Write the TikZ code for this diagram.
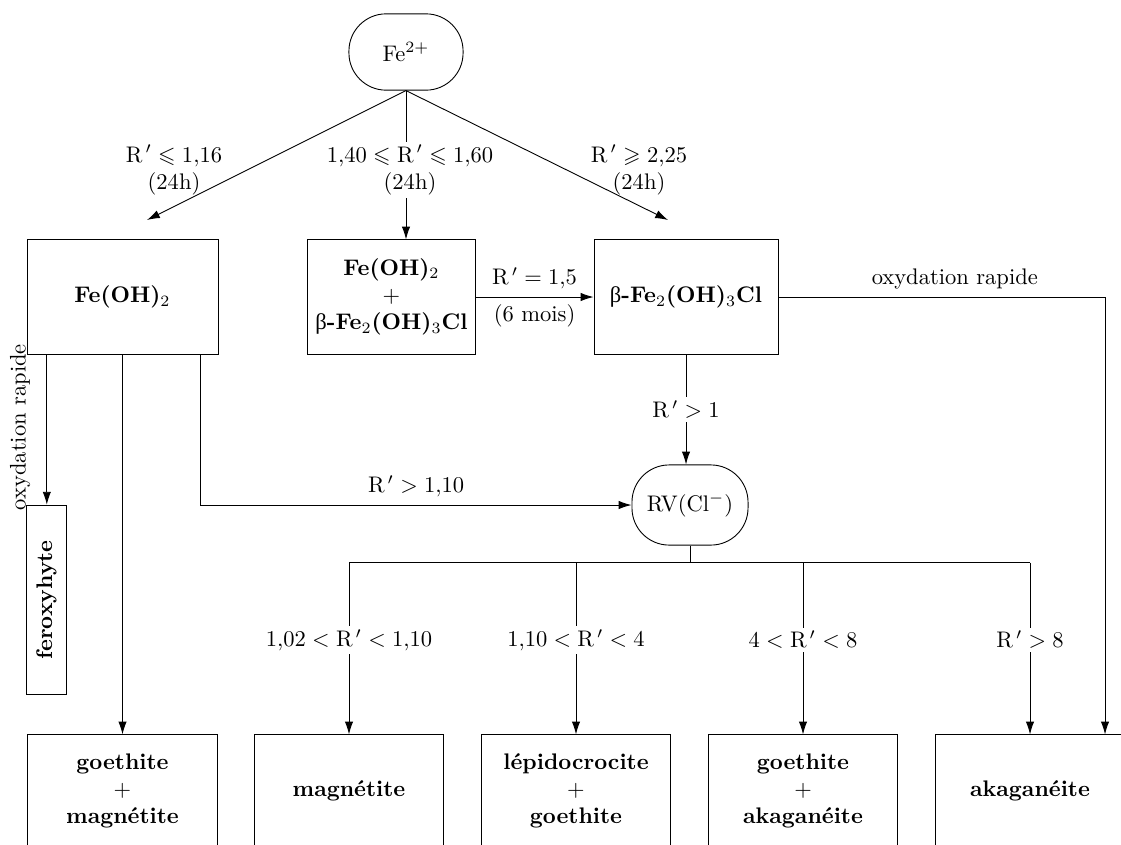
\documentclass[tikz,border=0pt]{standalone}
\usepackage{amssymb}
\usepackage{amsmath}
\usepackage{fontspec}
\newfontfamily\grec{Liberation Serif}
\usetikzlibrary{arrows.meta}

\newcommand{\Rp}{\mathrm{R}^{\,\prime}}
\newcommand{\bet}{{\grec\mdseries β}}

\begin{document}
\begin{tikzpicture}[x=0.0156cm, y=-0.0156cm,
  boite/.style={draw, minimum width=2.95cm, minimum height=1.78cm, align=center, font=\bfseries},
  etat/.style={draw, rounded corners=0.58cm, minimum width=1.78cm, minimum height=1.19cm},
  fleche/.style={-{Latex[length=2mm,width=1.3mm]}},
  cond/.style={fill=white, inner sep=1.5pt, align=center}]
\clip (0,0) rectangle (1121,844);

% etats de depart
\node[etat] (fe) at (406,52) {Fe$^{2+}$};
\node[boite, minimum width=2.98cm] (hyd) at (122.5,297) {Fe(OH)$_2$};
\node[boite, minimum width=2.51cm] (mix) at (391.5,297) {Fe(OH)$_2$\\ \mdseries$+$\\ \bet-Fe$_2$(OH)$_3$Cl};
\node[boite, minimum width=2.87cm] (rouille) at (686,297) {\bet-Fe$_2$(OH)$_3$Cl};
\node[draw, rotate=90, minimum width=2.96cm, minimum height=0.61cm, font=\bfseries] (ferox) at (46.5,600) {feroxyhyte};
\node[etat, minimum width=1.81cm, minimum height=1.25cm] (rv) at (690,505) {RV(Cl$^-$)};

% produits finaux
\node[boite, minimum height=1.75cm] (b1) at (122.5,791) {goethite\\ \mdseries$+$\\ magnétite};
\node[boite, minimum height=1.75cm] (b2) at (349,791) {magnétite};
\node[boite, minimum height=1.75cm] (b3) at (576,791) {lépidocrocite\\ \mdseries$+$\\ goethite};
\node[boite, minimum height=1.75cm] (b4) at (803,791) {goethite\\ \mdseries$+$\\ akaganéite};
\node[boite, minimum height=1.75cm] (b5) at (1030,791) {akaganéite};

% precipitation
\coordinate (pg) at (147,220);
\coordinate (pd) at (668,220);
\draw[fleche] (fe.south) -- (pg);
\draw[fleche] (fe.south) -- (pd);
\draw[fleche] (fe.south) -- (fe.south |- mix.north);
\node[align=center] (c1) at (174,170) {$\Rp\leqslant 1{,}16$\\(24h)};
\node[cond] (c2) at (410,170) {$1{,}40\leqslant\Rp\leqslant 1{,}60$\\(24h)};
\node[align=center] (c3) at (639,170) {$\Rp\geqslant 2{,}25$\\(24h)};

\draw[fleche] (mix.east) -- node[above]{$\Rp = 1{,}5$} node[below]{(6 mois)} (rouille.west);

% oxydation
\coordinate (coin) at (1105,297);
\draw[fleche] (rouille.east) -- node[above, pos=0.54]{oxydation rapide} (coin) -- (coin |- b5.north);
\draw[fleche] ([xshift=-1.18cm]hyd.south) -- ([xshift=-1.18cm]hyd.south |- ferox.east);
\node[rotate=90] (oxr) at (20,427) {oxydation rapide};
\draw[fleche] (hyd.south) -- (b1.north);
\draw[fleche] ([xshift=1.22cm]hyd.south) |- node[above, pos=0.75]{$\Rp > 1{,}10$} (rv.west);
\draw[fleche] (rouille.south) -- node[cond]{$\Rp > 1$} (rouille.south |- rv.north);

% vieillissement
\draw (rv.south) -- ++(0,17) coordinate (emb);
\draw (b2.north |- emb) -- (b5.north |- emb);
\foreach \b/\t in {b2/{$1{,}02<\Rp<1{,}10$}, b3/{$1{,}10<\Rp<4$}, b4/{$4<\Rp<8$}, b5/{$\Rp>8$}}
  \draw[fleche] (\b.north |- emb) -- node[cond, pos=0.45]{\t} (\b.north);
\end{tikzpicture}
\end{document}
